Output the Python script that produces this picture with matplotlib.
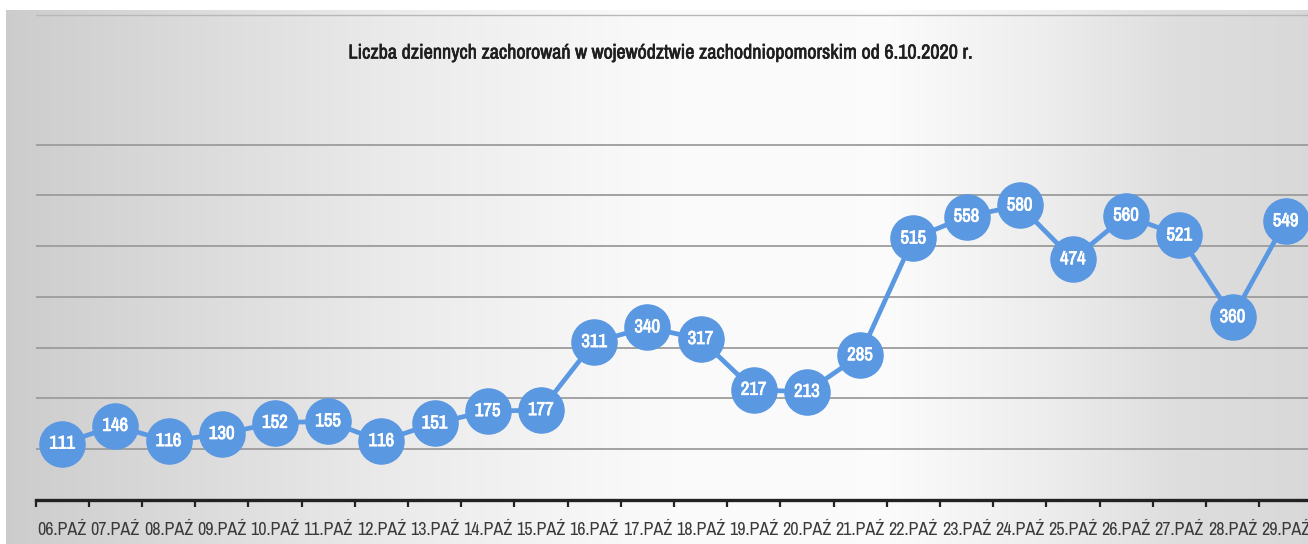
import numpy as np
import matplotlib
matplotlib.use("Agg")
import matplotlib.pyplot as plt
import matplotlib.patheffects as pe
from matplotlib import font_manager

days = ["06", "07", "08", "09", "10", "11", "12", "13", "14", "15", "16", "17",
        "18", "19", "20", "21", "22", "23", "24", "25", "26", "27", "28", "29"]
tick_labels = [d + ".PAŹ" for d in days]
cases = [111, 146, 116, 130, 152, 155, 116, 151, 175, 177, 311, 340,
         317, 217, 213, 285, 515, 558, 580, 474, 560, 521, 360, 549]
title = "Liczba dziennych zachorowań w województwie zachodniopomorskim od 6.10.2020 r."

# pick a condensed font if one is installed
flist = font_manager.fontManager.ttflist
cond = None
for f in flist:
    n = f.name.lower()
    if ("condensed" in n or "narrow" in n) and "italic" not in f.style and "oblique" not in f.style:
        cond = f
        break
if cond is None:
    for f in flist:
        if str(f.stretch) in ("condensed", "semi-condensed", "extra-condensed") and f.style == "normal":
            cond = f
            break
if cond is not None:
    fam = [cond.name, "DejaVu Sans"]
    stretch = cond.stretch
else:
    fam = ["Roboto", "DejaVu Sans"]
    stretch = "normal"

W, H = 1308, 544
fig = plt.figure(figsize=(W / 100, H / 100), dpi=100)

# background gradient (scanned look)
bg = fig.add_axes([0, 0, 1, 1], zorder=0)
xs = np.linspace(0, 1, W)
gx = np.interp(xs, [0, 0.1, 0.3, 0.5, 0.68, 0.8, 0.9, 1.0],
               [0.80, 0.84, 0.92, 0.98, 0.985, 0.93, 0.87, 0.85])
img = np.tile(gx, (H, 1))
rgb = np.dstack([img, img, img])
rgb[:10, :, :] = 1.0
rgb[:, :6, :] = 1.0
bg.imshow(rgb, aspect="auto", extent=[0, 1, 0, 1], origin="upper")
bg.set_axis_off()

left = 35.5 / W
width = 24 * 53.2 / W
bottom = (H - 500) / H
height = (500 - 15) / H
ax = fig.add_axes([left, bottom, width, height], zorder=1)
ax.patch.set_alpha(0)

x = np.arange(len(cases))
ax.set_xlim(-0.5, len(cases) - 0.5)
ax.set_ylim(0, 955)

for g in range(100, 800, 100):
    ax.axhline(g, color="#9c9c9c", lw=1.3, zorder=1)

ax.plot(x, cases, color="#5a98e2", lw=3.4, zorder=2,
        marker="o", markersize=32.5, markerfacecolor="#5a98e2",
        markeredgecolor="#5a98e2")
semi = [pe.withStroke(linewidth=0.55, foreground="white")]
for xi, v in zip(x, cases):
    ax.text(xi, v, str(v), ha="center", va="center", color="white",
            fontsize=13.5, fontweight="bold", family=fam, fontstretch=stretch,
            zorder=3, path_effects=semi)

ax.set_xticks(np.arange(-0.5, len(cases), 1.0))
ax.set_xticklabels([])
ax.set_xticks(x, minor=True)
ax.set_xticklabels(tick_labels, minor=True, fontsize=13, color="#3a3a3a",
                   family=fam, fontstretch=stretch)
ax.tick_params(axis="x", which="major", direction="out", length=5, width=1.6, color="#222222")
ax.tick_params(axis="x", which="minor", length=0, pad=16)
ax.set_yticks([])

for s in ["left", "right"]:
    ax.spines[s].set_visible(False)
ax.spines["top"].set_color("#b8b8b8")
ax.spines["top"].set_linewidth(1.0)
ax.spines["bottom"].set_color("#222222")
ax.spines["bottom"].set_linewidth(2.4)

fig.text(660 / W, 1 - 53 / H, title, ha="center", va="center", fontsize=14.5,
         color="#1e1e1e", family=fam, fontstretch=stretch, zorder=5,
         path_effects=[pe.withStroke(linewidth=0.45, foreground="#1e1e1e")])

fig.savefig("out.png", dpi=100)
